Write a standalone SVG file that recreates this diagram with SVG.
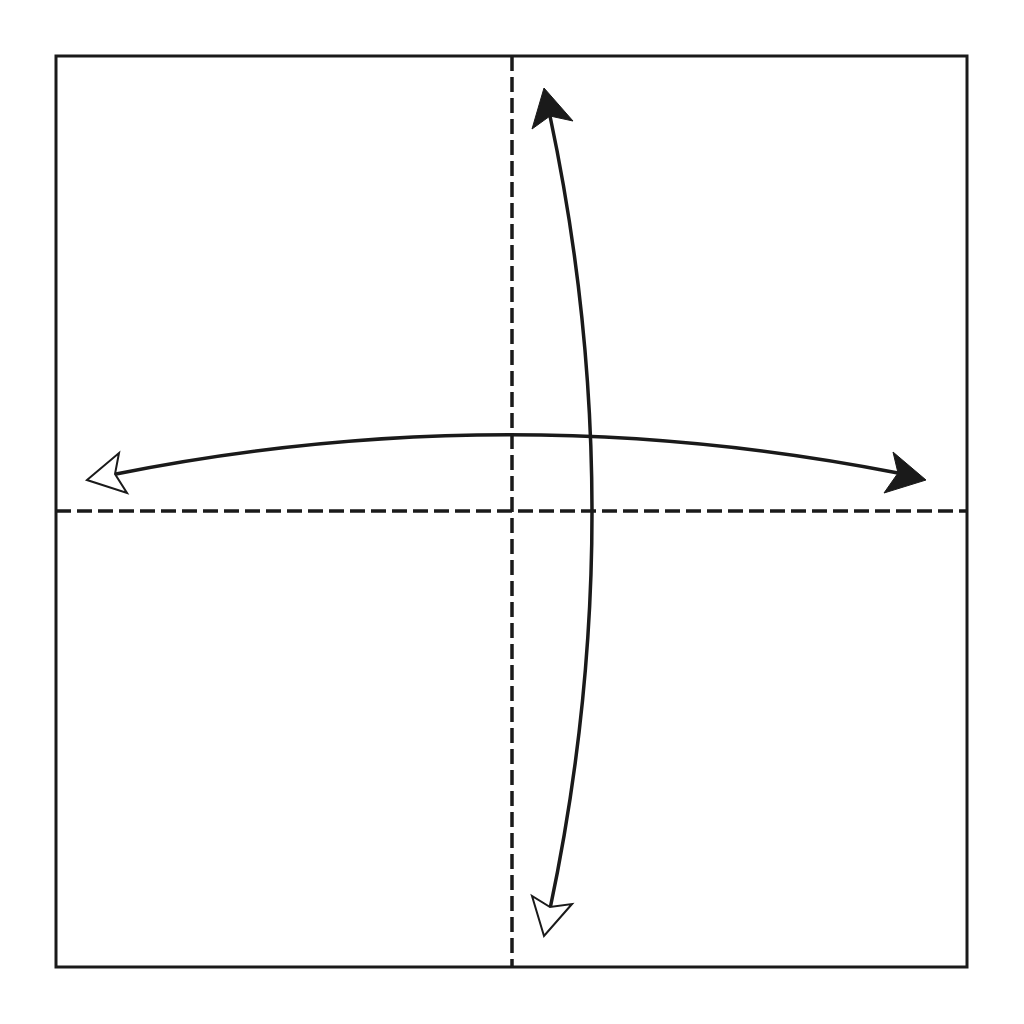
<svg xmlns="http://www.w3.org/2000/svg" width="1024" height="1024" viewBox="0 0 1024 1024">
<style>
.edge{fill:none;stroke:#1a1a1a;stroke-width:3}
.fold{fill:none;stroke:#1a1a1a;stroke-width:3.5;stroke-dasharray:15 6}
.curve{fill:none;stroke:#1a1a1a;stroke-width:3.5}
.solid{fill:#1a1a1a;stroke:#1a1a1a;stroke-width:1;stroke-linejoin:miter}
.hollow{fill:#fff;stroke:#1a1a1a;stroke-width:2;stroke-linejoin:miter}
</style>
<rect width="1024" height="1024" fill="#fff"/>
<g id="paper">
<rect class="edge" x="56" y="56" width="911" height="911"/>
</g>
<g id="folds">
<line class="fold" x1="512" y1="56" x2="512" y2="967"/>
<line class="fold" x1="56" y1="511" x2="967" y2="511"/>
</g>
<g id="connectors">
<path class="curve" d="M550,116 Q634,512 550,909"/>
<path class="curve" d="M116,474 Q506,396 898,473"/>
<polygon class="solid" points="544,88 573,121 550,116 532,129"/>
<polygon class="hollow" points="544,936 532,896 550,907 572,904"/>
<polygon class="hollow" points="87,480 119,453 115,474 127,493"/>
<polygon class="solid" points="926,480 893,452 898,473 884,493"/>
</g>
</svg>
